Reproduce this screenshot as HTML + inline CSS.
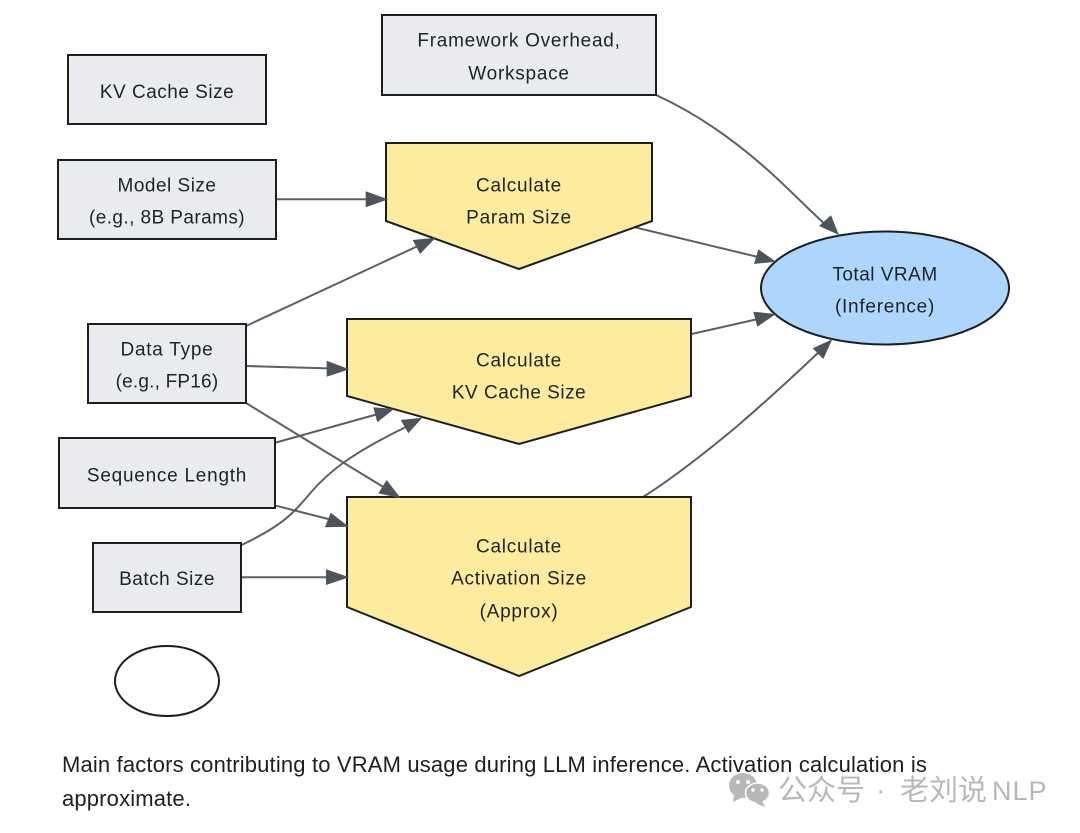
<!DOCTYPE html>
<html><head><meta charset="utf-8"><style>
html,body{margin:0;padding:0;background:#fff;width:1080px;height:833px;overflow:hidden}
svg{display:block}
text{font-family:"Liberation Sans","Noto Sans CJK SC",sans-serif;font-size:19px;fill:#1f2328;text-anchor:middle;letter-spacing:.75px}
.n{stroke:#1c1f22;stroke-width:2}
.g{fill:#e9ebef}.y{fill:#fdeb9e}
.e{fill:none;stroke:#5a6068;stroke-width:2}
.a{fill:#4e545c}
.c{font-size:22px;text-anchor:start;letter-spacing:.16px;fill:#1c1f22}
.w{font-size:29px;text-anchor:start;letter-spacing:0;fill:#b8b8b8}
.t{letter-spacing:.5px}
</style></head><body>
<svg width="1080" height="833" viewBox="0 0 1080 833" xmlns="http://www.w3.org/2000/svg">
<rect width="1080" height="833" fill="#fff"/>
<path class="e" d="M276 199.300H370"/>
<path class="e" d="M246 326L420 245"/>
<path class="e" d="M246 366L332 368.500"/>
<path class="e" d="M246 403L385 488"/>
<path class="e" d="M276 442.500L378 414"/>
<path class="e" d="M276 505.700L332 520"/>
<path class="e" d="M241.700 545C262 535 278 526 290 515C300 506 305 499 313 490C322 480 332 471 343 463C360 451 385 437 408 426"/>
<path class="e" d="M241 577.300H332"/>
<path class="e" d="M656 95C700 115 740 145 770 172C790 190 808 209 827 226"/>
<path class="e" d="M635 227.300L758 257"/>
<path class="e" d="M691.700 334L758 319"/>
<path class="e" d="M643 497C670 480 700 457 735 428C770 398 800 370 820 351"/>
<polygon class="n y" points="386,143 652,143 652,221 519,269 386,221"/>
<polygon class="n y" points="347,319 691,319 691,396 519,444 347,396"/>
<polygon class="n y" points="347,497 691,497 691,607 519,676 347,607"/>
<rect class="n g" x="68" y="55" width="198" height="69"/>
<rect class="n g" x="382" y="15" width="274" height="80"/>
<rect class="n g" x="58" y="160" width="218" height="79"/>
<rect class="n g" x="88" y="324" width="158" height="79"/>
<rect class="n g" x="59" y="438" width="216" height="70"/>
<rect class="n g" x="93" y="543" width="148" height="69"/>
<ellipse cx="885" cy="288" rx="124" ry="56.500" fill="#aed5fc" class="n"/>
<ellipse cx="167" cy="681" rx="52" ry="35" fill="#fff" class="n"/>
<polygon class="a" points="388.300,199.300 365.700,191.300 365.700,207.300"/>
<polygon class="a" points="435.700,237.700 412.700,240 420,254"/>
<polygon class="a" points="349.300,369.300 326.700,360.700 326.700,376.700"/>
<polygon class="a" points="400.700,498.300 386.700,480 378.300,493.300"/>
<polygon class="a" points="394,409 373.300,407.300 377.300,422.300"/>
<polygon class="a" points="349,526.700 330.700,512.700 325,527.300"/>
<polygon class="a" points="422.300,417.700 400.700,420 408.300,433.300"/>
<polygon class="a" points="349,577.300 326,569.300 326,585"/>
<polygon class="a" points="839,235 831,215.300 819,226"/>
<polygon class="a" points="776,261.700 758.300,249.300 754,264"/>
<polygon class="a" points="776,314 753.300,311.700 757.300,326.700"/>
<polygon class="a" points="832.300,339.300 812.700,348.300 823.300,359"/>
<text class="t" x="167" y="98">KV Cache Size</text>
<text x="519" y="46.500">Framework Overhead,</text>
<text x="519" y="79.500">Workspace</text>
<text class="t" x="167" y="191.500">Model Size</text>
<text class="t" x="167" y="223.500" style="letter-spacing:.42px">(e.g., 8B Params)</text>
<text x="519" y="191.500">Calculate</text>
<text x="519" y="223.500">Param Size</text>
<text x="885" y="280.500" style="letter-spacing:.5px">Total VRAM</text>
<text x="885" y="312.500">(Inference)</text>
<text x="167" y="355.500">Data Type</text>
<text x="167" y="387.500" style="letter-spacing:.2px">(e.g., FP16)</text>
<text x="519" y="366.500">Calculate</text>
<text x="519" y="398.500" class="t">KV Cache Size</text>
<text x="167" y="481.500">Sequence Length</text>
<text x="167" y="585" class="t">Batch Size</text>
<text x="519" y="552.300">Calculate</text>
<text x="519" y="584.500">Activation Size</text>
<text x="519" y="617.500">(Approx)</text>
<text class="c" x="62" y="772">Main factors contributing to VRAM usage during LLM inference. Activation calculation is</text>
<text class="c" x="62" y="806">approximate.</text>
<g fill="#b8b8b8">
<ellipse cx="743" cy="785.500" rx="14" ry="12.500"/>
<polygon points="734,794 733,802 743,797"/>
<ellipse cx="757.500" cy="793" rx="12" ry="10" stroke="#fff" stroke-width="1.500"/>
<polygon points="762,801 765,807 755,803"/>
</g>
<g fill="#fff"><circle cx="738" cy="782" r="2"/><circle cx="748" cy="782" r="2"/><circle cx="753" cy="790" r="1.700"/><circle cx="762" cy="790" r="1.700"/></g>
<text class="w" x="778" y="800">公众号</text>
<text class="w" x="876" y="800">·</text>
<text class="w" x="900" y="800">老刘说</text>
<text class="w" x="992" y="800" style="font-size:27px;letter-spacing:1px">NLP</text>
</svg>
</body></html>
